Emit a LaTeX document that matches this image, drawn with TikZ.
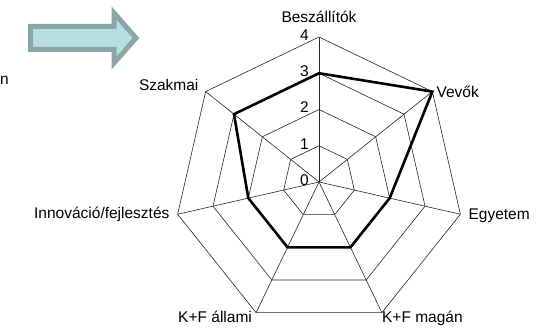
\documentclass[tikz,border=0pt]{standalone}
\usepackage{fontspec}
\setmainfont{Liberation Sans}
\usetikzlibrary{positioning}
\usetikzlibrary{calc}
\definecolor{arrowfill}{HTML}{B7DEE0}
\definecolor{arrowline}{HTML}{8AA6A6}

\begin{document}
\begin{tikzpicture}[
    x=1pt, y=1pt,                          % one unit = one pixel
    font=\fontsize{15.5}{18}\selectfont,
    ]
% -------------------------------------------------
\tikzset{
  grid/.style={draw, black!85, line width=0.6pt},
  axis/.style={grid},
  data/.style={draw, black, line width=2.6pt, line join=miter},
  lbl/.style={inner sep=1pt},
  tick/.style={anchor=east, inner sep=0pt, font=\fontsize{15.5}{18}\selectfont},
  bigarrow/.style={draw=arrowline, fill=arrowfill, line width=5pt, line join=miter}
}
% -------------------------------------------------
\useasboundingbox (0,0) rectangle (540,-328);

% The arrow and the text fragment on the left
\draw[bigarrow] (30.5,-26.5) -- (114,-26.5) -- (114,-13) -- (136,-38)
    -- (114,-63) -- (114,-49.5) -- (30.5,-49.5) -- cycle;
\node[anchor=west, inner sep=0pt] (frag) at (0,-80) {n};

% -------------------------------------------------
% Placing the axes and the grid
\begin{scope}[shift={(319,-182)}]
  \coordinate (o) at (0,0);
  \foreach \i in {0,...,6}
    \coordinate (v\i) at ({90-\i*360/7}:145);
  \foreach \k in {1,...,4}
    \draw[grid] (90:\k*36.25) \foreach \i in {1,...,6} { -- ({90-\i*360/7}:\k*36.25) } -- cycle;
  \foreach \i in {0,...,6}
    \draw[axis] (o) -- (v\i);

  % values
  \coordinate (d0) at (90:3*36.25);
  \coordinate (d1) at ({90-1*360/7}:4*36.25);
  \coordinate (d2) at ({90-2*360/7}:2*36.25);
  \coordinate (d3) at ({90-3*360/7}:2*36.25);
  \coordinate (d4) at ({90-4*360/7}:2*36.25);
  \coordinate (d5) at ({90-5*360/7}:2*36.25);
  \coordinate (d6) at ({90-6*360/7}:3*36.25);

  % scale
  \foreach \k in {0,...,4}
    \node[tick] (t\k) at (-10,\k*36.25+2) {\k};
\end{scope}

\path[data] (d0) -- (d1) -- (d2) -- (d3) -- (d4) -- (d5) -- (d6) -- cycle;

% -------------------------------------------------
% Axis labels
\node[lbl, above=13pt of v0] (besz) {Beszállítók};
\node[lbl, right=3pt of v1] (vevo) {Vevők};
\node[lbl, right=7pt of v2, yshift=-2pt] (egye) {Egyetem};
\node[lbl, anchor=north west, inner sep=0pt] (kfm) at ([yshift=2pt]v3) {K+F magán};
\node[lbl, anchor=north east, inner sep=0pt] (kfa) at ([xshift=-4pt, yshift=2pt]v4) {K+F állami};
\node[lbl, left=7pt of v5] (inno) {Innováció/fejlesztés};
\node[lbl, anchor=south east] (szak) at ([xshift=-6pt]v6) {Szakmai};

\end{tikzpicture}
\end{document}
